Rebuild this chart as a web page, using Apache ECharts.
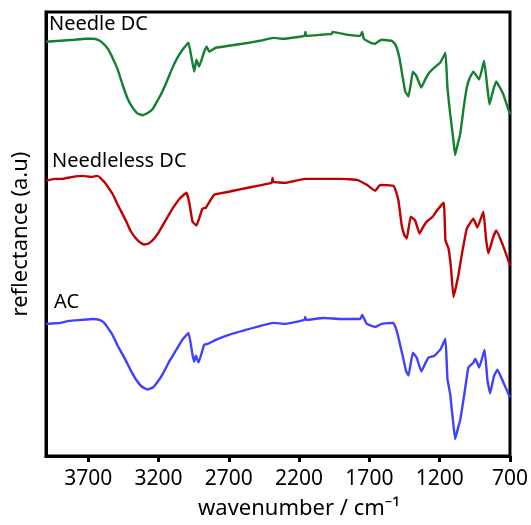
<!DOCTYPE html>
<html>
<head>
<meta charset="utf-8">
<style>
    html, body { margin: 0; padding: 0; background: #fff; }
    #main { width: 531px; height: 525px; }
</style>
<script src="https://cdn.jsdelivr.net/npm/echarts@6/dist/echarts.min.js"></script>
</head>
<body>
<div id="main"></div>
<script>
    // x tick labels (wavenumber, cm-1)
    var xTicks = [3700, 3200, 2700, 2200, 1700, 1200, 700];

    // Needle DC (green)
    var needleWn = [4000, 3900, 3800, 3720, 3669, 3630, 3598, 3560, 3527, 3490, 3456, 3420, 3385, 3350, 3314,
        3280, 3243, 3210, 3172, 3135, 3100, 3065, 3029, 3000, 2986,
        2946, 2930, 2911, 2875, 2856, 2839, 2792, 2700, 2603, 2480, 2382, 2311, 2160, 2155, 2148, 2050, 1967, 1963,
        1850, 1765, 1751, 1740, 1718, 1690, 1659, 1640, 1612, 1541, 1520, 1505, 1485, 1470, 1445, 1422, 1405, 1391,
        1367, 1331, 1300, 1267, 1230, 1196, 1159, 1145, 1125, 1100, 1090, 1070, 1054, 1030, 1007, 985, 960, 919,
        884, 860, 846, 820, 798, 750, 700];
    var needleR = [417, 418, 419, 420, 420, 419, 416, 410, 401, 389, 374, 360, 351, 345, 343,
        345, 349, 357, 367, 379, 391, 401, 409, 414, 416,
        387, 399, 392, 407, 412, 407, 411, 413, 415, 418, 421, 420, 423, 427, 423, 424, 425, 427,
        424, 423, 427, 420, 418, 416, 415, 417, 419, 418, 415, 411, 400, 387, 367, 362, 375, 387,
        383, 371, 380, 387, 392, 396, 406, 371, 344, 315, 303, 315, 324, 350, 371, 381, 387, 379,
        398, 370, 354, 368, 377, 365, 344];

    // Needleless DC (red)
    var needlelessWn = [4000, 3940, 3883, 3810, 3740, 3680, 3634, 3586, 3560, 3527, 3490, 3432, 3400, 3360, 3330,
        3302, 3270, 3230, 3195, 3150, 3100, 3050, 3001, 2982,
        2958, 2930, 2911, 2887, 2863, 2804, 2700, 2603, 2395, 2389, 2382, 2299, 2157, 2038, 1900, 1790, 1718, 1659,
        1623, 1529, 1510, 1493, 1470, 1450, 1434, 1406, 1374, 1344, 1320, 1292, 1249, 1221, 1171, 1159, 1137, 1120,
        1102, 1085, 1067, 1040, 1007, 960, 932, 889, 870, 854, 820, 798, 750, 700];
    var needlelessR = [277, 279, 279, 281, 282, 281, 282, 276, 271, 264, 253, 237, 227, 219, 215,
        213, 214, 219, 226, 237, 249, 259, 265, 256,
        236, 232, 239, 249, 250, 263, 266, 269, 275, 280, 276, 275, 279, 279, 279, 278, 273, 267,
        273, 272, 266, 257, 232, 222, 219, 241, 237, 224, 230, 236, 241, 247, 255, 217, 209, 190,
        160, 170, 182, 205, 229, 239, 230, 246, 218, 204, 220, 227, 212, 192];

    // AC (blue)
    var acWn = [4000, 3900, 3835, 3750, 3669, 3620, 3586, 3560, 3527, 3490, 3432, 3400, 3360, 3320, 3278,
        3240, 3210, 3172, 3120, 3077, 3030, 2986, 2958, 2946, 2934,
        2915, 2875, 2847, 2792, 2700, 2603, 2382, 2299, 2160, 2157, 2150, 2026, 1900, 1765, 1751, 1718, 1659,
        1612, 1529, 1510, 1493, 1465, 1440, 1422, 1391, 1363, 1331, 1300, 1280, 1237, 1196, 1159, 1145, 1125,
        1105, 1090, 1070, 1054, 1025, 996, 960, 946, 919, 881, 860, 841, 815, 789, 750, 700];
    var acR = [133, 134, 136, 137, 138, 137, 134, 129, 122, 111, 96, 87, 77, 70, 67,
        69, 74, 82, 96, 106, 117, 124, 102, 95, 101,
        94, 112, 113, 117, 122, 126, 134, 133, 137, 140, 137, 139, 138, 138, 142, 133, 130,
        133, 134, 128, 119, 102, 86, 81, 104, 99, 85, 94, 99, 101, 107, 118, 78, 62,
        35, 17, 28, 36, 62, 89, 94, 98, 89, 107, 76, 63, 80, 87, 75, 59];

    var seriesNames = ['Needle DC', 'Needleless DC', 'AC'];
    var seriesColors = ['#12802f', '#c00000', '#4040ff'];

    function zip(xs, ys) {
        return xs.map(function (x, i) { return [x, ys[i]]; });
    }

    var myChart = echarts.init(document.getElementById('main'));
    var font = 'Noto Sans';

    var opt = {
        animation: false,
        grid: {
            left: 46, right: 19, top: 12, bottom: 66,
            show: true, borderColor: '#000', borderWidth: 3, backgroundColor: 'transparent'
        },
        xAxis: {
            type: 'value',
            inverse: true,
            min: 700,
            max: 4000,
            interval: 500,
            name: 'wavenumber / cm\u207B\u00B9',
            nameLocation: 'middle',
            nameGap: 42,
            nameTextStyle: { fontFamily: font, fontSize: 22, color: '#000', padding: [0, 0, 0, 42] },
            axisLine: { show: true, onZero: false, lineStyle: { color: '#000', width: 3 } },
            axisTick: { show: true, length: 6, lineStyle: { color: '#000', width: 3 }, customValues: xTicks },
            axisLabel: {
                fontFamily: font, fontSize: 21, color: '#000', margin: 13, customValues: xTicks,
                formatter: function (val) { return String(val); }
            },
            splitLine: { show: false }
        },
        yAxis: {
            type: 'value',
            min: 0,
            max: 447,
            name: 'reflectance (a.u)',
            nameLocation: 'middle',
            nameGap: 14,
            nameTextStyle: { fontFamily: font, fontSize: 22, color: '#000' },
            axisLine: { show: true, lineStyle: { color: '#000', width: 3 } },
            axisTick: { show: false },
            axisLabel: { show: false },
            splitLine: { show: false }
        },
        graphic: [
            { type: 'text', left: 49, top: 14, style: { text: 'Needle DC', font: '20px "Noto Sans"', fill: '#000' } },
            { type: 'text', left: 52, top: 151, style: { text: 'Needleless DC', font: '20px "Noto Sans"', fill: '#000' } },
            { type: 'text', left: 54, top: 292, style: { text: 'AC', font: '20px "Noto Sans"', fill: '#000' } }
        ],
        series: [needleWn, needlelessWn, acWn].map(function (wn, i) {
            var vals = [needleR, needlelessR, acR][i];
            return {
                name: seriesNames[i],
                type: 'line',
                data: zip(wn, vals),
                showSymbol: false,
                smooth: 0.1,
                lineStyle: { color: seriesColors[i], width: 2.4 }
            };
        })
    };
    myChart.setOption(opt);
</script>
</body>
</html>
